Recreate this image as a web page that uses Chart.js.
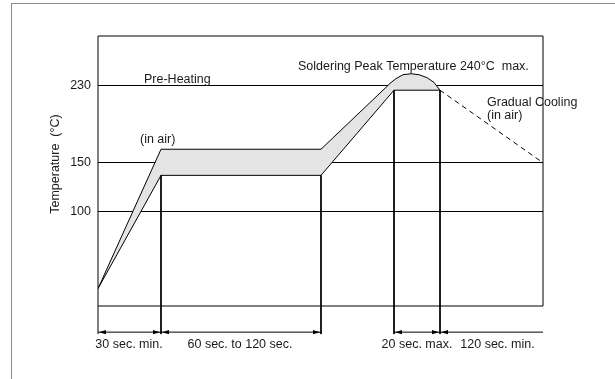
<!DOCTYPE html>
<html>
<head>
<meta charset="utf-8">
<script src="https://cdn.jsdelivr.net/npm/chart.js@4.4.1/dist/chart.umd.min.js"></script>
<style>
    body { margin: 0; background: #fff; }
    #wrap { position: relative; width: 615px; height: 379px; overflow: hidden; }
    #frame { position: absolute; left: 11px; top: 3px; width: 640px; height: 400px;
             border-left: 1px solid #8c8c8c; border-top: 1px solid #8c8c8c; }
    #profile { position: absolute; left: 0; top: 0; }
</style>
</head>
<body>
<div id="wrap">
    <div id="frame"></div>
    <canvas id="profile" width="615" height="379"></canvas>
</div>
<script>
// schematic time axis (diagram units) and temperatures (°C)
const timeMarks = [0, 63, 223, 296, 342, 445];
const lowerTemp = [20, 137, 137, 225, 225];          // at timeMarks[0..4]
const upperTime = [0, 63, 223, 286, 292, 298, 305, 313, 321, 329, 336, 342];
const upperTemp = [20, 164, 164, 226, 232, 237, 241, 242, 241, 238, 233, 225];
const coolTime = [342, 445];
const coolTemp = [225, 150];

const yTicks = [230, 150, 100];
const spanLabels = ["30 sec. min.", "60 sec. to 120 sec.", "20 sec. max.", "120 sec. min."];
const spanLabelAt = [31, 142, 319, 399.5];
// [from mark, to mark, arrow heads]
const spans = [[0, 1, "both"], [1, 2, "both"], [3, 4, "both"], [4, 5, "start"]];
const dimTemp = -25;      // level of the dimension arrows
const dimBottom = -27;    // lower end of the extension lines

const noteTexts = ["Pre-Heating", "(in air)", "Soldering Peak Temperature 240°C  max.", "Gradual Cooling", "(in air)"];
const yTitle = "Temperature  (°C)";

const FAMILY = "'Liberation Sans', Arial, sans-serif";
const FONT = "12.5px " + FAMILY;
const INK = "#1a1a1a";

const pts = (xs, ys) => xs.map((x, i) => ({ x: x, y: ys[i] }));

// extension lines under the profile corners
const extLines = [];
for (let i = 1; i <= 4; i++) {
    extLines.push({ x: timeMarks[i], y: lowerTemp[i] }, { x: timeMarks[i], y: dimBottom }, { x: timeMarks[i], y: null });
}
// dimension lines
const dimLines = [];
spans.forEach(s => {
    dimLines.push({ x: timeMarks[s[0]], y: dimTemp }, { x: timeMarks[s[1]], y: dimTemp }, { x: timeMarks[s[1]], y: null });
});

const framePlugin = {
    id: "frame",
    afterDatasetsDraw(chart) {
        const { ctx, scales: { x, y } } = chart;
        const l = x.getPixelForValue(x.min), r = x.getPixelForValue(x.max);
        const t = y.getPixelForValue(y.max), b = y.getPixelForValue(y.min);
        const d = y.getPixelForValue(dimBottom);
        ctx.save();
        ctx.strokeStyle = "#000";
        ctx.lineWidth = 1;
        ctx.beginPath();
        ctx.moveTo(l, d); ctx.lineTo(l, t); ctx.lineTo(r, t); ctx.lineTo(r, b); ctx.lineTo(l, b);
        ctx.stroke();

        // arrow heads
        const ay = y.getPixelForValue(dimTemp);
        const head = (px, dir) => {
            ctx.beginPath();
            ctx.moveTo(px, ay);
            ctx.lineTo(px + dir * 7, ay - 2.2);
            ctx.lineTo(px + dir * 7, ay + 2.2);
            ctx.closePath();
            ctx.fill();
        };
        ctx.fillStyle = "#000";
        spans.forEach(s => {
            head(x.getPixelForValue(timeMarks[s[0]]) + 1, 1);
            if (s[2] === "both") head(x.getPixelForValue(timeMarks[s[1]]) - 1, -1);
        });
        ctx.restore();
    }
};

const notesPlugin = {
    id: "notes",
    afterDraw(chart, args, opts) {
        const { ctx, scales: { x, y } } = chart;
        ctx.save();
        ctx.font = FONT;
        ctx.fillStyle = INK;
        ctx.textBaseline = "middle";
        ctx.textAlign = "left";
        noteTexts.forEach((txt, i) => {
            const p = opts.at[i];
            ctx.fillText(txt, x.getPixelForValue(p[0]), y.getPixelForValue(p[1]));
        });
        ctx.translate(x.getPixelForValue(opts.titleAt[0]), y.getPixelForValue(opts.titleAt[1]));
        ctx.rotate(-Math.PI / 2);
        ctx.textAlign = "center";
        ctx.fillText(yTitle, 0, 0);
        ctx.restore();
    }
};

new Chart(document.getElementById("profile"), {
    type: "line",
    data: {
        datasets: [
            {
                data: pts(upperTime, upperTemp),
                borderColor: "#000",
                borderWidth: 1,
                backgroundColor: "#e4e4e4",
                fill: { target: 1 },
                pointRadius: 0,
                tension: 0
            },
            {
                data: pts(timeMarks.slice(0, 5), lowerTemp),
                borderColor: "#000",
                borderWidth: 1,
                fill: false,
                pointRadius: 0
            },
            {
                data: pts(coolTime, coolTemp),
                borderColor: "#000",
                borderWidth: 1,
                borderDash: [5, 4],
                fill: false,
                pointRadius: 0
            },
            {
                data: extLines,
                borderColor: "#000",
                borderWidth: 1,
                fill: false,
                pointRadius: 0,
                spanGaps: false,
                clip: false
            },
            {
                data: dimLines,
                borderColor: "#000",
                borderWidth: 1,
                fill: false,
                pointRadius: 0,
                spanGaps: false,
                clip: false
            }
        ]
    },
    options: {
        responsive: false,
        animation: false,
        devicePixelRatio: 1,
        layout: { padding: { left: 0, right: 72, top: 36, bottom: 0 } },
        plugins: {
            legend: { display: false },
            tooltip: { enabled: false },
            filler: { drawTime: "beforeDatasetsDraw" },
            notes: {
                at: [[46, 236.5], [42, 173.5], [200, 249.5], [389, 212], [389, 199]],
                titleAt: [-42, 148.7]
            }
        },
        scales: {
            x: {
                type: "linear",
                min: 0,
                max: 445,
                grid: { display: false },
                border: { display: false },
                afterBuildTicks: s => { s.ticks = spanLabelAt.map(v => ({ value: v })); },
                afterFit: s => { s.height = 73; },
                ticks: {
                    autoSkip: false,
                    maxRotation: 0,
                    padding: 23,
                    color: INK,
                    font: { family: FAMILY, size: 12.5 },
                    callback: (v, i) => spanLabels[i]
                }
            },
            y: {
                type: "linear",
                min: 2,
                max: 281,
                grid: { color: "#000", lineWidth: 1, drawTicks: false },
                border: { display: false },
                afterBuildTicks: s => { s.ticks = yTicks.map(v => ({ value: v })); },
                afterFit: s => { s.width = 98; },
                ticks: {
                    padding: 7,
                    color: INK,
                    font: { family: FAMILY, size: 12.5 }
                }
            }
        }
    },
    plugins: [framePlugin, notesPlugin]
});
</script>
</body>
</html>
